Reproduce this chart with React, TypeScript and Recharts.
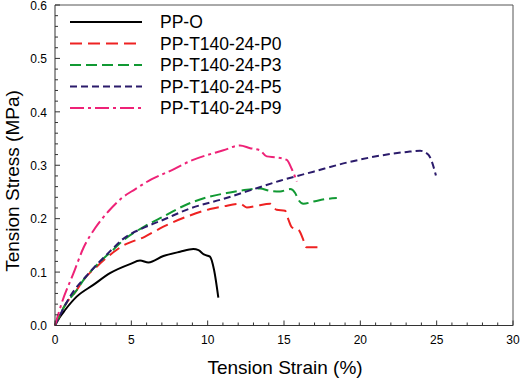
import React from "react";
import { LineChart, Line, XAxis, YAxis, Legend } from "recharts";

// strain (%) / stress (MPa) pairs
const ppO = [
  { x: 0, y: 0 }, { x: 0.3, y: 0.015 }, { x: 0.66, y: 0.029 }, { x: 1.42, y: 0.054 },
  { x: 2.51, y: 0.076 }, { x: 3.6, y: 0.098 }, { x: 4.91, y: 0.115 }, { x: 5.57, y: 0.1215 },
  { x: 6.12, y: 0.118 }, { x: 7.1, y: 0.13 }, { x: 8.19, y: 0.138 }, { x: 9.06, y: 0.143 },
  { x: 9.4, y: 0.141 }, { x: 9.75, y: 0.133 }, { x: 10.15, y: 0.129 }, { x: 10.42, y: 0.104 },
  { x: 10.7, y: 0.052 },
];

const ppP0 = [
  { x: 0, y: 0 }, { x: 0.7, y: 0.04 }, { x: 1.42, y: 0.066 }, { x: 1.86, y: 0.085 },
  { x: 2.8, y: 0.112 }, { x: 3.82, y: 0.137 }, { x: 4.37, y: 0.148 }, { x: 5.9, y: 0.1665 },
  { x: 7.1, y: 0.185 }, { x: 8.74, y: 0.205 }, { x: 10.16, y: 0.218 }, { x: 11.03, y: 0.223 },
  { x: 12.12, y: 0.228 }, { x: 12.56, y: 0.221 }, { x: 13.21, y: 0.224 }, { x: 14.09, y: 0.228 },
  { x: 14.52, y: 0.2166 }, { x: 15.07, y: 0.2147 }, { x: 15.29, y: 0.198 }, { x: 15.51, y: 0.184 },
  { x: 15.95, y: 0.179 }, { x: 16.27, y: 0.16 }, { x: 16.45, y: 0.1466 }, { x: 17.25, y: 0.1466 },
];

const ppP3 = [
  { x: 0, y: 0 }, { x: 0.7, y: 0.04 }, { x: 1.42, y: 0.066 }, { x: 1.86, y: 0.085 },
  { x: 2.8, y: 0.115 }, { x: 3.82, y: 0.142 }, { x: 4.37, y: 0.157 }, { x: 5.9, y: 0.186 },
  { x: 7.1, y: 0.204 }, { x: 8.74, y: 0.228 }, { x: 10.16, y: 0.2415 }, { x: 11.47, y: 0.249 },
  { x: 12.56, y: 0.254 }, { x: 13.43, y: 0.2565 }, { x: 14.09, y: 0.252 }, { x: 14.74, y: 0.251 },
  { x: 15.4, y: 0.2554 }, { x: 15.73, y: 0.248 }, { x: 15.95, y: 0.235 }, { x: 16.27, y: 0.228 },
  { x: 16.93, y: 0.232 }, { x: 17.8, y: 0.237 }, { x: 18.46, y: 0.2385 },
];

const ppP5 = [
  { x: 0, y: 0 }, { x: 0.98, y: 0.054 }, { x: 2.29, y: 0.1 }, { x: 3.82, y: 0.145 },
  { x: 4.37, y: 0.16 }, { x: 5.9, y: 0.184 }, { x: 7.1, y: 0.198 }, { x: 8.74, y: 0.218 },
  { x: 11.03, y: 0.237 }, { x: 13.21, y: 0.257 }, { x: 14.74, y: 0.271 }, { x: 16.93, y: 0.288 },
  { x: 19.12, y: 0.305 }, { x: 21.3, y: 0.318 }, { x: 23.05, y: 0.325 }, { x: 23.92, y: 0.327 },
  { x: 24.46, y: 0.3197 }, { x: 24.68, y: 0.307 }, { x: 24.95, y: 0.281 },
];

const ppP9 = [
  { x: 0, y: 0 }, { x: 0.44, y: 0.042 }, { x: 1.2, y: 0.097 }, { x: 1.86, y: 0.145 },
  { x: 2.62, y: 0.182 }, { x: 3.49, y: 0.2134 }, { x: 4.37, y: 0.2385 }, { x: 5.24, y: 0.255 },
  { x: 6.34, y: 0.274 }, { x: 7.43, y: 0.288 }, { x: 8.96, y: 0.309 }, { x: 11.03, y: 0.328 },
  { x: 12.12, y: 0.337 }, { x: 12.78, y: 0.332 }, { x: 13.43, y: 0.328 }, { x: 13.87, y: 0.3166 },
  { x: 14.52, y: 0.3147 }, { x: 15.18, y: 0.31 }, { x: 15.51, y: 0.293 }, { x: 15.84, y: 0.2696 },
];

const series = [
  { name: "PP-O", data: ppO, color: "#000000", dash: undefined },
  { name: "PP-T140-24-P0", data: ppP0, color: "#ee2222", dash: "12 6" },
  { name: "PP-T140-24-P3", data: ppP3, color: "#119933", dash: "11 5" },
  { name: "PP-T140-24-P5", data: ppP5, color: "#2b1b6b", dash: "7 4" },
  { name: "PP-T140-24-P9", data: ppP9, color: "#ee2277", dash: "14 4 3 4" },
];

const xTicks = Array.from({ length: 31 }, (_, i) => i);
const yTicks = Array.from({ length: 31 }, (_, i) => +(i * 0.02).toFixed(2));

const FONT = "'Liberation Sans', Arial, sans-serif";
const AXIS = "#333";

function XTick(props: any) {
  const { x, y, payload } = props;
  const major = payload.value % 5 === 0;
  return (
    <g>
      <line x1={x} y1={y} x2={x} y2={y - (major ? 5 : 3)} stroke={AXIS} />
      {major && (
        <text x={x} y={y + 18.5} textAnchor="middle" fontSize={12} fontFamily={FONT} fill="#000">
          {payload.value}
        </text>
      )}
    </g>
  );
}

function YTick(props: any) {
  const { x, y, payload } = props;
  const major = Math.round(payload.value * 100) % 10 === 0;
  return (
    <g>
      <line x1={x} y1={y} x2={x + (major ? 5 : 3)} y2={y} stroke={AXIS} />
      {major && (
        <text x={x - 8} y={y + 4.8} textAnchor="end" fontSize={12} fontFamily={FONT} fill="#000">
          {payload.value.toFixed(1)}
        </text>
      )}
    </g>
  );
}

function LegendBox() {
  return (
    <svg width={300} height={125} style={{ display: "block" }}>
      {series.map((s, i) => {
        const cy = 22 + i * 21.5;
        return (
          <g key={s.name}>
            <line x1={70} y1={cy} x2={142} y2={cy} stroke={s.color} strokeWidth={2} strokeDasharray={s.dash} />
            <text x={160} y={cy + 6.2} fontSize={17.5} fontFamily={FONT} fill="#000">
              {s.name}
            </text>
          </g>
        );
      })}
    </svg>
  );
}

export default function App() {
  return (
    <div style={{ position: "absolute", left: 0, top: 0, width: 520, height: 381, background: "#fff" }}>
      <LineChart width={520} height={381} margin={{ top: 4, right: 6, left: 54, bottom: 54.5 }}>
        <XAxis
          type="number"
          dataKey="x"
          domain={[0, 30]}
          ticks={xTicks}
          interval={0}
          tickSize={0}
          tickMargin={0}
          height={1}
          tickLine={false}
          axisLine={{ stroke: AXIS }}
          tick={<XTick />}
        />
        <XAxis
          xAxisId="top"
          orientation="top"
          type="number"
          domain={[0, 30]}
          height={1}
          tick={false}
          tickLine={false}
          axisLine={{ stroke: "#555" }}
        />
        <YAxis
          type="number"
          dataKey="y"
          domain={[0, 0.6]}
          ticks={yTicks}
          interval={0}
          tickSize={0}
          tickMargin={0}
          width={1}
          tickLine={false}
          axisLine={{ stroke: AXIS }}
          tick={<YTick />}
        />
        <YAxis
          yAxisId="right"
          orientation="right"
          type="number"
          domain={[0, 0.6]}
          width={1}
          tick={false}
          tickLine={false}
          axisLine={{ stroke: "#555" }}
        />
        {series.map((s) => (
          <Line
            key={s.name}
            data={s.data}
            dataKey="y"
            name={s.name}
            type="monotone"
            stroke={s.color}
            strokeWidth={2}
            strokeDasharray={s.dash}
            dot={false}
            activeDot={false}
            isAnimationActive={false}
          />
        ))}
        <Legend
          verticalAlign="middle"
          content={() => <LegendBox />}
          wrapperStyle={{ position: "absolute", left: 0, top: 0, width: 300, height: 125 }}
        />
      </LineChart>
      <div
        style={{
          position: "absolute",
          left: 0,
          width: 570,
          top: 357,
          textAlign: "center",
          fontFamily: FONT,
          fontSize: 19,
          lineHeight: "22px",
        }}
      >
        Tension Strain (%)
      </div>
      <div
        style={{
          position: "absolute",
          left: 13,
          top: 181,
          transform: "translate(-50%, -50%) rotate(-90deg)",
          whiteSpace: "nowrap",
          fontFamily: FONT,
          fontSize: 19,
          lineHeight: "22px",
        }}
      >
        Tension Stress (MPa)
      </div>
    </div>
  );
}
